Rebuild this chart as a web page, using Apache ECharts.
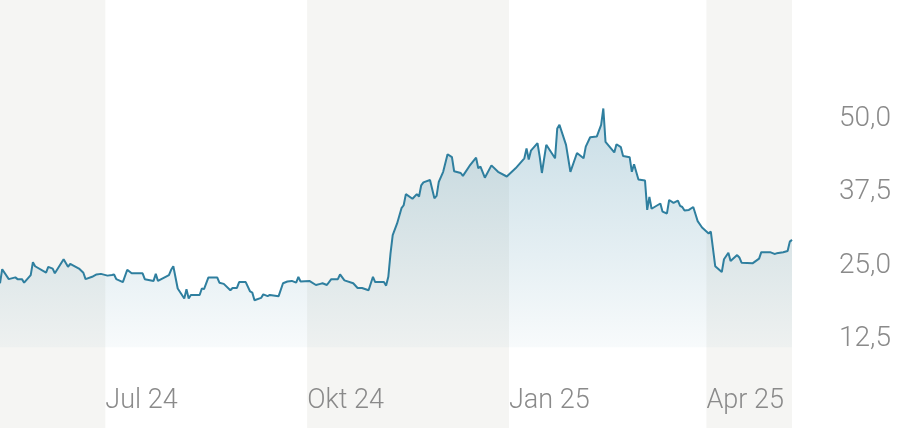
<!DOCTYPE html>
<html>
<head>
<meta charset="utf-8">
<script src="https://cdn.jsdelivr.net/npm/echarts@6/dist/echarts.min.js"></script>
<style>html,body{margin:0;padding:0;background:#fff}#c{width:902px;height:428px}</style>
</head>
<body>
<div id="c"></div>
<script>
const dates = ['2024-05-14','2024-05-15','2024-05-18','2024-05-21','2024-05-22','2024-05-24','2024-05-25','2024-05-28','2024-05-29','2024-05-30',
'2024-06-04','2024-06-05','2024-06-07','2024-06-08','2024-06-12','2024-06-14','2024-06-15','2024-06-19','2024-06-21','2024-06-22','2024-06-25','2024-06-27','2024-06-29',
'2024-07-02','2024-07-04','2024-07-05','2024-07-06','2024-07-09','2024-07-11','2024-07-13','2024-07-18','2024-07-19','2024-07-23','2024-07-24','2024-07-25','2024-07-30','2024-07-31',
'2024-08-01','2024-08-03','2024-08-06','2024-08-07','2024-08-08','2024-08-09','2024-08-13','2024-08-14','2024-08-15','2024-08-17','2024-08-21','2024-08-22','2024-08-24','2024-08-27','2024-08-28','2024-08-30','2024-08-31',
'2024-09-03','2024-09-05','2024-09-06','2024-09-07','2024-09-10','2024-09-11','2024-09-13','2024-09-14','2024-09-18','2024-09-20','2024-09-22','2024-09-24','2024-09-26','2024-09-27','2024-09-28',
'2024-10-02','2024-10-05','2024-10-07','2024-10-08','2024-10-10','2024-10-12','2024-10-15','2024-10-16','2024-10-18','2024-10-22','2024-10-24','2024-10-26','2024-10-29','2024-10-31',
'2024-11-01','2024-11-05','2024-11-06','2024-11-07','2024-11-08','2024-11-09','2024-11-11','2024-11-13','2024-11-14','2024-11-15','2024-11-18','2024-11-20','2024-11-21','2024-11-22','2024-11-23','2024-11-26','2024-11-28','2024-11-29','2024-11-30',
'2024-12-02','2024-12-04','2024-12-06','2024-12-07','2024-12-10','2024-12-11','2024-12-14','2024-12-17','2024-12-18','2024-12-19','2024-12-21','2024-12-24','2024-12-27','2024-12-31',
'2025-01-04','2025-01-08','2025-01-09','2025-01-10','2025-01-11','2025-01-14','2025-01-15','2025-01-16','2025-01-18','2025-01-22','2025-01-23','2025-01-24','2025-01-27','2025-01-29',
'2025-02-01','2025-02-04','2025-02-05','2025-02-07','2025-02-10','2025-02-12','2025-02-13','2025-02-14','2025-02-18','2025-02-19','2025-02-21','2025-02-22','2025-02-25','2025-02-26','2025-02-27',
'2025-03-01','2025-03-04','2025-03-05','2025-03-06','2025-03-07','2025-03-11','2025-03-12','2025-03-14','2025-03-15','2025-03-17','2025-03-19','2025-03-20','2025-03-21','2025-03-22','2025-03-24','2025-03-26','2025-03-28','2025-03-30',
'2025-04-02','2025-04-03','2025-04-05','2025-04-08','2025-04-09','2025-04-11','2025-04-12','2025-04-15','2025-04-16','2025-04-17','2025-04-22','2025-04-25','2025-04-26','2025-04-30',
'2025-05-02','2025-05-03','2025-05-06','2025-05-08','2025-05-09','2025-05-10'];
const prices = [22.0,24.4,22.7,23.0,22.7,22.7,22.1,23.4,25.6,24.9,
23.8,24.8,24.5,23.7,26.1,24.8,25.3,24.5,23.8,22.7,23.1,23.5,23.6,
23.3,23.4,23.5,22.7,22.2,24.3,23.7,23.7,22.7,22.4,23.6,22.4,23.4,24.3,
24.9,21.1,19.4,21.0,19.4,20.0,20.0,21.1,21.0,23.0,23.0,22.1,21.9,20.8,21.2,21.2,22.2,
22.2,20.6,20.4,19.1,19.5,20.1,19.8,20.0,19.8,22.0,22.3,22.4,22.1,23.1,22.3,
22.4,21.7,21.9,22.0,21.7,22.7,22.7,23.5,22.5,22.0,21.2,21.2,20.8,23.1,
22.2,22.2,21.6,23.1,27.1,30.2,32.2,34.8,35.3,37.2,36.4,37.2,36.8,38.7,39.2,39.6,36.5,36.9,39.3,
41.0,44.0,43.5,41.1,40.8,40.3,42.0,43.4,41.6,41.9,40.0,42.1,41.0,40.2,
41.6,43.3,45.0,43.1,44.6,45.9,43.6,40.8,45.6,43.3,48.4,49.0,45.6,41.0,
44.2,43.3,45.3,46.9,47.0,49.0,51.8,46.1,44.3,45.7,45.2,43.7,43.5,41.0,42.3,
39.7,39.5,34.5,36.7,34.7,35.6,34.2,33.9,36.2,35.7,36.1,35.2,35.0,34.4,34.5,35.0,32.6,31.5,
30.5,30.8,24.9,23.9,26.1,27.2,25.8,26.8,26.4,25.5,25.4,26.2,27.3,27.3,
27.0,27.1,27.3,27.5,29.1,29.4];
const yTicks = [12.5, 25, 37.5, 50];
const quarterStarts = ['2024-05-14','2024-07-01','2024-10-01','2025-01-01','2025-04-01','2025-05-10'];
const quarterLabels = ['', 'Jul 24', 'Okt 24', 'Jan 25', 'Apr 25'];
const quarterShaded = [true, false, true, false, true];

const FONT = 'Roboto, "Open Sans", sans-serif';
const chart = echarts.init(document.getElementById('c'), null, {renderer: 'canvas'});
const bands = quarterLabels.map((lab, i) => [
  {xAxis: quarterStarts[i], itemStyle: {color: quarterShaded[i] ? '#f5f5f3' : 'rgba(255,255,255,0)'},
   label: {show: !!lab, formatter: lab}},
  {xAxis: quarterStarts[i + 1]}
]);
chart.setOption({
  animation: false,
  backgroundColor: '#ffffff',
  grid: [
    {left: 0, right: 110, top: 0, bottom: 0},
    {left: 0, right: 110, top: 45.7, bottom: 15.7}
  ],
  xAxis: [
    {type: 'time', gridIndex: 0, min: quarterStarts[0], max: quarterStarts[quarterStarts.length - 1], show: false},
    {type: 'time', gridIndex: 1, min: quarterStarts[0], max: quarterStarts[quarterStarts.length - 1], show: false}
  ],
  yAxis: [
    {type: 'value', gridIndex: 0, min: 0, max: 1, show: false},
    {type: 'value', gridIndex: 1, position: 'right', min: 0, max: 62.5, interval: 12.5,
     axisLine: {show: false}, axisTick: {show: false}, splitLine: {show: false},
     axisLabel: {align: 'right', margin: 99, color: '#8a8a8a', fontSize: 28, fontWeight: 300, fontFamily: FONT,
       formatter: v => yTicks.includes(v) ? v.toFixed(1).replace('.', ',') : ''}}
  ],
  series: [
    {type: 'line', xAxisIndex: 0, yAxisIndex: 0, data: [], silent: true,
     markArea: {silent: true, data: bands,
       label: {position: 'insideBottomLeft', distance: 0, offset: [0, -13], color: '#8a8a8a', fontSize: 27, fontWeight: 300, fontFamily: FONT, padding: 0}}},
    {type: 'line', xAxisIndex: 1, yAxisIndex: 1, data: dates.map((d, i) => [d, prices[i]]),
     symbol: 'none', smooth: false,
     lineStyle: {color: '#2f7f9f', width: 2},
     areaStyle: {origin: 11.1, color: new echarts.graphic.LinearGradient(0, 0, 0, 1, [
       {offset: 0, color: 'rgba(47,127,159,0.38)'},
       {offset: 1, color: 'rgba(47,127,159,0.05)'}
     ])}}
  ]
});
</script>
</body>
</html>
